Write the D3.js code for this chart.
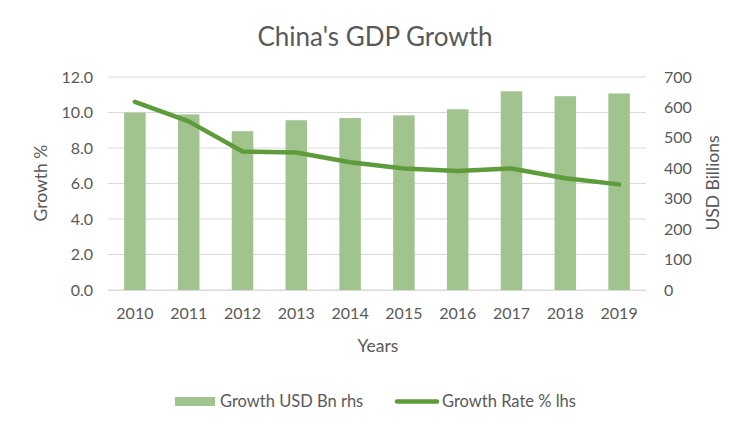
<!DOCTYPE html>
<html><head><meta charset="utf-8">
<script src="https://cdn.jsdelivr.net/npm/d3@7"></script>
<style>body{margin:0;background:#fff}svg{display:block}text{font-family:Lato,"Open Sans",sans-serif;fill:#595959}</style>
</head><body><svg id="c" width="750" height="431"></svg>
<script>
const years = ["2010","2011","2012","2013","2014","2015","2016","2017","2018","2019"];
const growthUsdBn = [583, 577, 522, 558, 565, 574, 594, 653, 637, 646];
const growthRatePct = [10.6, 9.5, 7.8, 7.75, 7.2, 6.85, 6.7, 6.85, 6.3, 5.95];
const leftTicks = [0, 2, 4, 6, 8, 10, 12];
const rightTicks = [0, 100, 200, 300, 400, 500, 600, 700];

const svg = d3.select("#c");
const L = 108, R = 646, T = 77, B = 290;
const x = d3.scaleBand().domain(years).range([L, R]).paddingInner(0.6).paddingOuter(0.3);
const yL = d3.scaleLinear().domain([0, 12]).range([B, T]);
const yR = d3.scaleLinear().domain([0, 700]).range([B, T]);

svg.append("g").selectAll("line").data(leftTicks).join("line")
  .attr("x1", L).attr("x2", R).attr("y1", d => yL(d)).attr("y2", d => yL(d))
  .attr("stroke", "#d9d9d9").attr("stroke-width", 1);

svg.append("g").selectAll("rect").data(years).join("rect")
  .attr("x", d => x(d)).attr("width", x.bandwidth())
  .attr("y", (d, i) => yR(growthUsdBn[i])).attr("height", (d, i) => B - yR(growthUsdBn[i]))
  .attr("fill", "#a1c48f");

const line = d3.line().x((d, i) => x(years[i]) + x.bandwidth() / 2).y(d => yL(d));
svg.append("path").datum(growthRatePct).attr("d", line)
  .attr("fill", "none").attr("stroke", "#5e9b3b").attr("stroke-width", 4.5)
  .attr("stroke-linecap", "round").attr("stroke-linejoin", "round");

const tickFont = 16;
const la = svg.append("g").attr("transform", `translate(${L},0)`)
  .call(d3.axisLeft(yL).tickValues(leftTicks).tickFormat(d3.format(".1f")).tickSize(0).tickPadding(15));
la.select(".domain").remove();
la.selectAll("text").attr("font-size", tickFont).style("fill", "#595959").style("font-family", "Lato,sans-serif");

const ra = svg.append("g").attr("transform", `translate(${R},0)`)
  .call(d3.axisRight(yR).tickValues(rightTicks).tickSize(0).tickPadding(18));
ra.select(".domain").remove();
ra.selectAll("text").attr("font-size", tickFont).style("fill", "#595959").style("font-family", "Lato,sans-serif");

const ba = svg.append("g").attr("transform", `translate(0,${B})`)
  .call(d3.axisBottom(x).tickSize(0).tickPadding(18));
ba.select(".domain").attr("stroke", "#d9d9d9");
ba.selectAll("text").attr("font-size", tickFont).style("fill", "#595959").style("font-family", "Lato,sans-serif");

svg.append("text").attr("x", 375).attr("y", 46).attr("text-anchor", "middle").attr("font-size", 26).text("China's GDP Growth");
svg.append("text").attr("x", 378).attr("y", 352).attr("text-anchor", "middle").attr("font-size", 17.5).text("Years");
svg.append("text").attr("transform", "translate(47,183) rotate(-90)").attr("text-anchor", "middle").attr("font-size", 17.5).text("Growth %");
svg.append("text").attr("transform", "translate(719,183) rotate(-90)").attr("text-anchor", "middle").attr("font-size", 17.5).text("USD Billions");

const lg = svg.append("g");
lg.append("rect").attr("x", 175).attr("y", 397).attr("width", 40).attr("height", 9).attr("fill", "#a1c48f");
lg.append("text").attr("x", 220).attr("y", 407).attr("font-size", 16.5).text("Growth USD Bn rhs");
lg.append("line").attr("x1", 397).attr("x2", 437).attr("y1", 401.5).attr("y2", 401.5)
  .attr("stroke", "#5e9b3b").attr("stroke-width", 4.5).attr("stroke-linecap", "round");
lg.append("text").attr("x", 442).attr("y", 407).attr("font-size", 16.5).text("Growth Rate % lhs");
</script></body></html>
